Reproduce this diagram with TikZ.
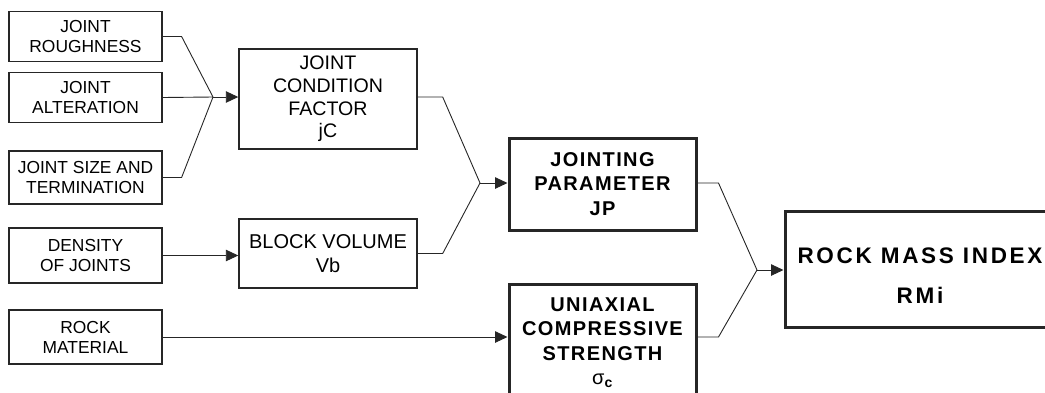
\documentclass[tikz,border=0pt]{standalone}
\usepackage{fontspec}
\setmainfont{Liberation Sans}
\usetikzlibrary{arrows.meta,positioning}
\colorlet{myline}{black!85}
\def\elbow{19}
\tikzset{
  >={Triangle[length=12.5pt,width=11.5pt]},
  node/.style={draw=myline,inner sep=0,align=center,text=black},
  node in/.style={node,line width=1.2pt,minimum width=153,minimum height=50,
    font=\fontsize{17.4}{20}\selectfont},
  node mid/.style={node,line width=1.4pt,minimum width=178,
    font=\fontsize{19.6}{22.7}\selectfont},
  node key/.style={node,line width=3pt,minimum width=187,
    font=\fontsize{20}{24.5}\selectfont\bfseries\addfontfeature{LetterSpace=7}},
  connect/.style={line width=0.9pt,myline},
  connect arrow/.style={connect,->}
}

\begin{document}
\begin{tikzpicture}[x=1pt,y=-1pt]
  \useasboundingbox (0,0) rectangle (1045,392);

  % inputs
  \node[node in] (rough) at (85.5,36.5) {JOINT\\ROUGHNESS};
  \node[node in] (alter) at (85.5,97.5) {JOINT\\ALTERATION};
  \node[node in, minimum height=53] (size) at (85.5,177.5) {JOINT SIZE AND\\TERMINATION};
  \node[node in, minimum height=55] (dens) at (85.5,255.5) {DENSITY\\OF JOINTS};
  \node[node in, minimum height=54] (rock) at (85.5,337) {ROCK\\MATERIAL};

  % factors
  \node[node mid, minimum height=100] (jcf) at (328,99) {JOINT\\CONDITION\\FACTOR\\jC};
  \node[node mid, minimum height=69, font=\fontsize{20}{24}\selectfont] (bv) at (328,253.5) {BLOCK VOLUME\\Vb};

  % parameters
  \node[node key, minimum height=92] (jp) at (602.5,184) {JOINTING\\PARAMETER\\JP};
  \node[node key, minimum height=117] (ucs) at (602.5,342.5)
    {UNIAXIAL\\COMPRESSIVE\\STRENGTH\\{\mdseries σ}\textsubscript{c}};

  % result
  \node[node key, minimum width=270, minimum height=116,
    font=\fontsize{22.5}{26}\selectfont\bfseries\addfontfeature{LetterSpace=12}] (rmi) at (920,269)
    {\rule{0pt}{28pt}ROCK MASS INDEX\\[14pt]RMi};

  % junctions
  \coordinate (jjc) at (213,97);
  \coordinate (jjp) at (480,183);
  \coordinate (jrmi) at (757,270);

  \draw[connect] (rough.east) -- ++(\elbow,0) -- (jjc);
  \draw[connect] (size.east) -- ++(\elbow,0) -- (jjc);
  \draw[connect] (alter.east) -- (jjc);
  \draw[connect arrow] (jjc) -- (jcf.west |- jjc);

  \draw[connect arrow] (dens.east) -- (dens.east -| bv.west);

  \draw[connect] (jcf.east) ++(0,-2) -- ++(25,0) -- (jjp);
  \draw[connect] (bv.east) -- ++(25,0) -- (jjp);
  \draw[connect arrow] (jjp) -- (jp.west |- jjp);

  \draw[connect arrow] (rock.east) -- (rock.east -| ucs.west);

  \draw[connect] (jp.east) ++(0,-1) -- ++(21,0) -- (jrmi);
  \draw[connect] (ucs.east |- rock.east) -- ++(21,0) -- (jrmi);
  \draw[connect arrow] (jrmi) -- (rmi.west |- jrmi);
\end{tikzpicture}
\end{document}
